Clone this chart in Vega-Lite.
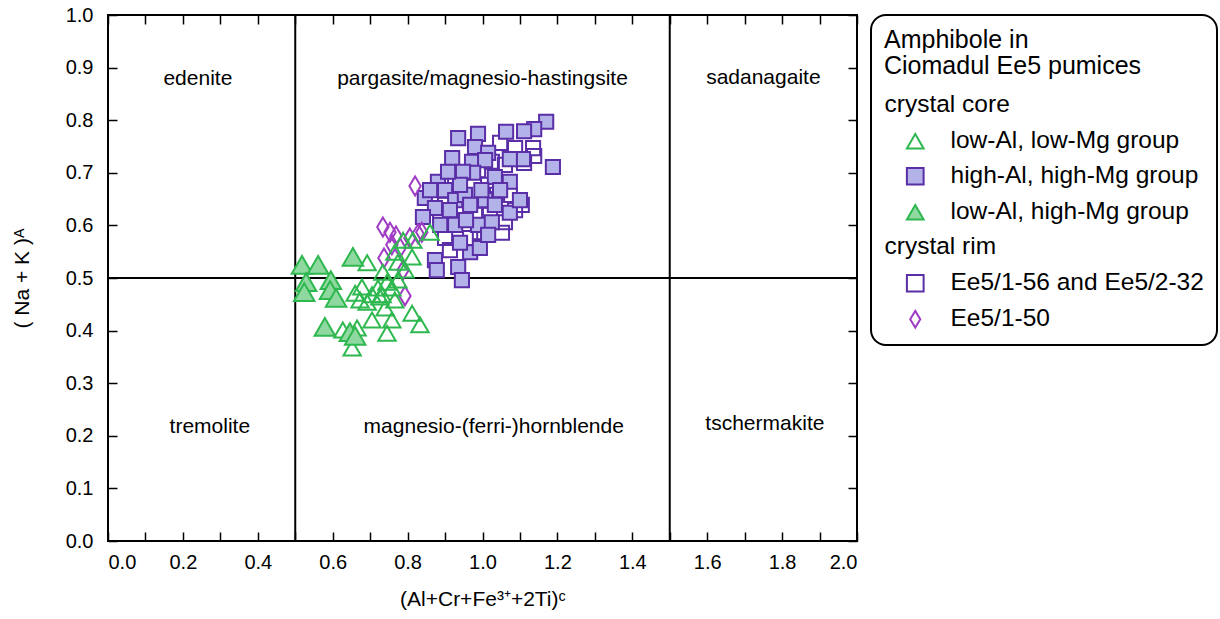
{
  "$schema": "https://vega.github.io/schema/vega-lite/v6.json",
  "width": 749,
  "height": 526,
  "padding": {"left": 11, "top": 5, "right": 2, "bottom": 2},
  "background": "white",
  "config": {
    "font": "Liberation Sans",
    "view": {"stroke": "black", "strokeWidth": 2},
    "axis": {"grid": false, "domain": false, "tickColor": "black", "tickWidth": 1.5, "labelColor": "black", "titleColor": "black", "labelFont": "Liberation Sans", "titleFont": "Liberation Sans", "labelFontSize": 20, "titleFontSize": 21, "titleFontWeight": "normal"},
    "legend": {"strokeColor": "black", "strokeWidth": 2, "cornerRadius": 15, "padding": 13, "fillColor": "white", "titleFont": "Liberation Sans", "titleFontSize": 25, "titleFontWeight": "normal", "titleColor": "black", "titleLineHeight": 26, "titlePadding": 14, "titleLimit": 400, "labelFont": "Liberation Sans", "labelFontSize": 24.5, "labelColor": "black", "labelLimit": 400, "symbolSize": 280, "symbolStrokeWidth": 2, "symbolOffset": 19, "rowPadding": 10, "offset": 13}
  },
  "resolve": {"axis": {"x": "independent", "y": "independent"}},
  "layer": [
    {
      "data": {"values": [{"x": 0.5}, {"x": 1.5}]},
      "mark": {"type": "rule", "color": "black", "strokeWidth": 2},
      "encoding": {
        "x": {"field": "x", "type": "quantitative", "scale": {"domain": [0, 2], "nice": false}, "axis": {"orient": "top", "labels": false, "title": null, "tickSize": -9, "values": [0, 0.1, 0.2, 0.3, 0.4, 0.5, 0.6, 0.7, 0.8, 0.9, 1.0, 1.1, 1.2, 1.3, 1.4, 1.5, 1.6, 1.7, 1.8, 1.9, 2.0]}}
      }
    },
    {
      "data": {"values": [{"y": 0.5}]},
      "mark": {"type": "rule", "color": "black", "strokeWidth": 2},
      "encoding": {
        "y": {"field": "y", "type": "quantitative", "scale": {"domain": [0, 1], "nice": false}, "axis": {"orient": "right", "labels": false, "title": null, "tickSize": -9, "values": [0, 0.1, 0.2, 0.3, 0.4, 0.5, 0.6, 0.7, 0.8, 0.9, 1.0]}}
      }
    },
    {
      "data": {"values": [
        {"x": 0.24, "y": 0.878, "label": "edenite"},
        {"x": 1.0, "y": 0.878, "label": "pargasite/magnesio-hastingsite"},
        {"x": 1.75, "y": 0.88, "label": "sadanagaite"},
        {"x": 0.272, "y": 0.217, "label": "tremolite"},
        {"x": 1.03, "y": 0.217, "label": "magnesio-(ferri-)hornblende"},
        {"x": 1.754, "y": 0.222, "label": "tschermakite"}
      ]},
      "mark": {"type": "text", "font": "Liberation Sans", "fontSize": 21, "color": "black", "align": "center", "baseline": "middle"},
      "encoding": {
        "x": {"field": "x", "type": "quantitative", "scale": {"domain": [0, 2], "nice": false}, "axis": null},
        "y": {"field": "y", "type": "quantitative", "scale": {"domain": [0, 1], "nice": false}, "axis": null},
        "text": {"field": "label"}
      }
    },
    {
      "data": {"values": [
        {"x": 1.135, "y": 0.747, "group": "Ee5/1-56 and Ee5/2-32"},
        {"x": 1.138, "y": 0.732, "group": "Ee5/1-56 and Ee5/2-32"},
        {"x": 1.111, "y": 0.719, "group": "Ee5/1-56 and Ee5/2-32"},
        {"x": 1.087, "y": 0.747, "group": "Ee5/1-56 and Ee5/2-32"},
        {"x": 1.047, "y": 0.757, "group": "Ee5/1-56 and Ee5/2-32"},
        {"x": 1.06, "y": 0.715, "group": "Ee5/1-56 and Ee5/2-32"},
        {"x": 1.052, "y": 0.586, "group": "Ee5/1-56 and Ee5/2-32"},
        {"x": 1.087, "y": 0.629, "group": "Ee5/1-56 and Ee5/2-32"},
        {"x": 1.105, "y": 0.639, "group": "Ee5/1-56 and Ee5/2-32"},
        {"x": 1.02, "y": 0.62, "group": "Ee5/1-56 and Ee5/2-32"},
        {"x": 0.993, "y": 0.587, "group": "Ee5/1-56 and Ee5/2-32"},
        {"x": 0.967, "y": 0.576, "group": "Ee5/1-56 and Ee5/2-32"},
        {"x": 1.039, "y": 0.658, "group": "Ee5/1-56 and Ee5/2-32"},
        {"x": 1.015, "y": 0.677, "group": "Ee5/1-56 and Ee5/2-32"},
        {"x": 0.9, "y": 0.576, "group": "Ee5/1-56 and Ee5/2-32"},
        {"x": 0.913, "y": 0.553, "group": "Ee5/1-56 and Ee5/2-32"},
        {"x": 0.98, "y": 0.62, "group": "Ee5/1-56 and Ee5/2-32"},
        {"x": 0.945, "y": 0.629, "group": "Ee5/1-56 and Ee5/2-32"},
        {"x": 0.927, "y": 0.69, "group": "Ee5/1-56 and Ee5/2-32"},
        {"x": 0.9, "y": 0.639, "group": "Ee5/1-56 and Ee5/2-32"},
        {"x": 1.073, "y": 0.658, "group": "Ee5/1-56 and Ee5/2-32"},
        {"x": 0.988, "y": 0.705, "group": "Ee5/1-56 and Ee5/2-32"},
        {"x": 1.025, "y": 0.721, "group": "Ee5/1-56 and Ee5/2-32"},
        {"x": 1.06, "y": 0.606, "group": "Ee5/1-56 and Ee5/2-32"},
        {"x": 0.887, "y": 0.62, "group": "Ee5/1-56 and Ee5/2-32"},
        {"x": 1.17, "y": 0.797, "group": "high-Al, high-Mg group"},
        {"x": 1.138, "y": 0.783, "group": "high-Al, high-Mg group"},
        {"x": 1.111, "y": 0.779, "group": "high-Al, high-Mg group"},
        {"x": 1.063, "y": 0.778, "group": "high-Al, high-Mg group"},
        {"x": 0.988, "y": 0.774, "group": "high-Al, high-Mg group"},
        {"x": 0.935, "y": 0.766, "group": "high-Al, high-Mg group"},
        {"x": 1.188, "y": 0.711, "group": "high-Al, high-Mg group"},
        {"x": 1.108, "y": 0.726, "group": "high-Al, high-Mg group"},
        {"x": 0.98, "y": 0.749, "group": "high-Al, high-Mg group"},
        {"x": 1.015, "y": 0.738, "group": "high-Al, high-Mg group"},
        {"x": 0.919, "y": 0.728, "group": "high-Al, high-Mg group"},
        {"x": 0.972, "y": 0.721, "group": "high-Al, high-Mg group"},
        {"x": 1.007, "y": 0.724, "group": "high-Al, high-Mg group"},
        {"x": 1.073, "y": 0.726, "group": "high-Al, high-Mg group"},
        {"x": 1.033, "y": 0.692, "group": "high-Al, high-Mg group"},
        {"x": 1.073, "y": 0.683, "group": "high-Al, high-Mg group"},
        {"x": 0.881, "y": 0.683, "group": "high-Al, high-Mg group"},
        {"x": 0.846, "y": 0.652, "group": "high-Al, high-Mg group"},
        {"x": 0.975, "y": 0.7, "group": "high-Al, high-Mg group"},
        {"x": 0.948, "y": 0.702, "group": "high-Al, high-Mg group"},
        {"x": 0.873, "y": 0.633, "group": "high-Al, high-Mg group"},
        {"x": 0.841, "y": 0.616, "group": "high-Al, high-Mg group"},
        {"x": 0.988, "y": 0.601, "group": "high-Al, high-Mg group"},
        {"x": 1.025, "y": 0.606, "group": "high-Al, high-Mg group"},
        {"x": 1.073, "y": 0.624, "group": "high-Al, high-Mg group"},
        {"x": 1.1, "y": 0.648, "group": "high-Al, high-Mg group"},
        {"x": 0.967, "y": 0.549, "group": "high-Al, high-Mg group"},
        {"x": 0.993, "y": 0.557, "group": "high-Al, high-Mg group"},
        {"x": 0.94, "y": 0.567, "group": "high-Al, high-Mg group"},
        {"x": 0.873, "y": 0.534, "group": "high-Al, high-Mg group"},
        {"x": 0.878, "y": 0.515, "group": "high-Al, high-Mg group"},
        {"x": 0.935, "y": 0.521, "group": "high-Al, high-Mg group"},
        {"x": 0.945, "y": 0.496, "group": "high-Al, high-Mg group"},
        {"x": 1.015, "y": 0.582, "group": "high-Al, high-Mg group"},
        {"x": 0.9, "y": 0.667, "group": "high-Al, high-Mg group"},
        {"x": 0.927, "y": 0.648, "group": "high-Al, high-Mg group"},
        {"x": 0.953, "y": 0.658, "group": "high-Al, high-Mg group"},
        {"x": 0.913, "y": 0.629, "group": "high-Al, high-Mg group"},
        {"x": 0.967, "y": 0.639, "group": "high-Al, high-Mg group"},
        {"x": 1.007, "y": 0.648, "group": "high-Al, high-Mg group"},
        {"x": 0.94, "y": 0.677, "group": "high-Al, high-Mg group"},
        {"x": 0.887, "y": 0.601, "group": "high-Al, high-Mg group"},
        {"x": 0.927, "y": 0.601, "group": "high-Al, high-Mg group"},
        {"x": 1.047, "y": 0.667, "group": "high-Al, high-Mg group"},
        {"x": 0.997, "y": 0.667, "group": "high-Al, high-Mg group"},
        {"x": 0.908, "y": 0.702, "group": "high-Al, high-Mg group"},
        {"x": 0.86, "y": 0.667, "group": "high-Al, high-Mg group"},
        {"x": 0.956, "y": 0.61, "group": "high-Al, high-Mg group"},
        {"x": 1.033, "y": 0.639, "group": "high-Al, high-Mg group"},
        {"x": 0.82, "y": 0.675, "group": "Ee5/1-50"},
        {"x": 0.734, "y": 0.597, "group": "Ee5/1-50"},
        {"x": 0.753, "y": 0.587, "group": "Ee5/1-50"},
        {"x": 0.769, "y": 0.58, "group": "Ee5/1-50"},
        {"x": 0.806, "y": 0.576, "group": "Ee5/1-50"},
        {"x": 0.828, "y": 0.584, "group": "Ee5/1-50"},
        {"x": 0.737, "y": 0.538, "group": "Ee5/1-50"},
        {"x": 0.788, "y": 0.515, "group": "Ee5/1-50"},
        {"x": 0.793, "y": 0.466, "group": "Ee5/1-50"},
        {"x": 0.78, "y": 0.557, "group": "Ee5/1-50"},
        {"x": 0.838, "y": 0.587, "group": "Ee5/1-50"},
        {"x": 0.758, "y": 0.563, "group": "Ee5/1-50"},
        {"x": 0.692, "y": 0.529, "group": "low-Al, low-Mg group"},
        {"x": 0.678, "y": 0.483, "group": "low-Al, low-Mg group"},
        {"x": 0.66, "y": 0.471, "group": "low-Al, low-Mg group"},
        {"x": 0.705, "y": 0.468, "group": "low-Al, low-Mg group"},
        {"x": 0.732, "y": 0.468, "group": "low-Al, low-Mg group"},
        {"x": 0.758, "y": 0.481, "group": "low-Al, low-Mg group"},
        {"x": 0.745, "y": 0.492, "group": "low-Al, low-Mg group"},
        {"x": 0.774, "y": 0.496, "group": "low-Al, low-Mg group"},
        {"x": 0.74, "y": 0.443, "group": "low-Al, low-Mg group"},
        {"x": 0.758, "y": 0.42, "group": "low-Al, low-Mg group"},
        {"x": 0.745, "y": 0.395, "group": "low-Al, low-Mg group"},
        {"x": 0.705, "y": 0.42, "group": "low-Al, low-Mg group"},
        {"x": 0.665, "y": 0.405, "group": "low-Al, low-Mg group"},
        {"x": 0.627, "y": 0.401, "group": "low-Al, low-Mg group"},
        {"x": 0.652, "y": 0.367, "group": "low-Al, low-Mg group"},
        {"x": 0.812, "y": 0.433, "group": "low-Al, low-Mg group"},
        {"x": 0.833, "y": 0.411, "group": "low-Al, low-Mg group"},
        {"x": 0.721, "y": 0.481, "group": "low-Al, low-Mg group"},
        {"x": 0.692, "y": 0.454, "group": "low-Al, low-Mg group"},
        {"x": 0.788, "y": 0.572, "group": "low-Al, low-Mg group"},
        {"x": 0.814, "y": 0.572, "group": "low-Al, low-Mg group"},
        {"x": 0.812, "y": 0.54, "group": "low-Al, low-Mg group"},
        {"x": 0.766, "y": 0.549, "group": "low-Al, low-Mg group"},
        {"x": 0.734, "y": 0.511, "group": "low-Al, low-Mg group"},
        {"x": 0.793, "y": 0.515, "group": "low-Al, low-Mg group"},
        {"x": 0.774, "y": 0.53, "group": "low-Al, low-Mg group"},
        {"x": 0.86, "y": 0.587, "group": "low-Al, low-Mg group"},
        {"x": 0.726, "y": 0.464, "group": "low-Al, low-Mg group"},
        {"x": 0.673, "y": 0.458, "group": "low-Al, low-Mg group"},
        {"x": 0.766, "y": 0.458, "group": "low-Al, low-Mg group"},
        {"x": 0.518, "y": 0.525, "group": "low-Al, high-Mg group"},
        {"x": 0.561, "y": 0.525, "group": "low-Al, high-Mg group"},
        {"x": 0.529, "y": 0.492, "group": "low-Al, high-Mg group"},
        {"x": 0.524, "y": 0.473, "group": "low-Al, high-Mg group"},
        {"x": 0.595, "y": 0.496, "group": "low-Al, high-Mg group"},
        {"x": 0.593, "y": 0.477, "group": "low-Al, high-Mg group"},
        {"x": 0.609, "y": 0.462, "group": "low-Al, high-Mg group"},
        {"x": 0.654, "y": 0.54, "group": "low-Al, high-Mg group"},
        {"x": 0.579, "y": 0.407, "group": "low-Al, high-Mg group"},
        {"x": 0.646, "y": 0.397, "group": "low-Al, high-Mg group"},
        {"x": 0.66, "y": 0.39, "group": "low-Al, high-Mg group"}
      ]},
      "encoding": {
        "x": {"field": "x", "type": "quantitative", "scale": {"domain": [0, 2], "nice": false}, "axis": {"orient": "bottom", "title": "(Al+Cr+Fe³⁺+2Ti)ᶜ", "tickSize": -9, "labelPadding": 20, "titlePadding": 16, "values": [0, 0.1, 0.2, 0.3, 0.4, 0.5, 0.6, 0.7, 0.8, 0.9, 1.0, 1.1, 1.2, 1.3, 1.4, 1.5, 1.6, 1.7, 1.8, 1.9, 2.0], "labelExpr": "round(datum.value * 10) % 2 == 0 ? format(datum.value, '.1f') : ''"}},
        "y": {"field": "y", "type": "quantitative", "scale": {"domain": [0, 1], "nice": false}, "axis": {"orient": "left", "title": "( Na + K )ᴬ", "tickSize": -9, "labelPadding": 24, "titlePadding": 33, "values": [0, 0.1, 0.2, 0.3, 0.4, 0.5, 0.6, 0.7, 0.8, 0.9, 1.0], "format": ".1f"}},
        "shape": {"field": "group", "type": "nominal", "scale": {"domain": ["crystal core", "low-Al, low-Mg group", "high-Al, high-Mg group", "low-Al, high-Mg group", "crystal rim", "Ee5/1-56 and Ee5/2-32", "Ee5/1-50"], "range": ["circle", "triangle-up", "square", "triangle-up", "circle", "square", "M0,-1L0.6,0L0,1L-0.6,0Z"]}, "legend": {"title": ["Amphibole in", "Ciomadul Ee5 pumices"], "labelOffset": {"expr": "datum.label === 'crystal core' || datum.label === 'crystal rim' ? -43 : 23"}}},
        "fill": {"field": "group", "type": "nominal", "scale": {"domain": ["crystal core", "low-Al, low-Mg group", "high-Al, high-Mg group", "low-Al, high-Mg group", "crystal rim", "Ee5/1-56 and Ee5/2-32", "Ee5/1-50"], "range": ["transparent", "transparent", "#b3b3ea", "#8fd9a1", "transparent", "transparent", "transparent"]}, "legend": {"title": ["Amphibole in", "Ciomadul Ee5 pumices"], "labelOffset": {"expr": "datum.label === 'crystal core' || datum.label === 'crystal rim' ? -43 : 23"}}},
        "stroke": {"field": "group", "type": "nominal", "scale": {"domain": ["crystal core", "low-Al, low-Mg group", "high-Al, high-Mg group", "low-Al, high-Mg group", "crystal rim", "Ee5/1-56 and Ee5/2-32", "Ee5/1-50"], "range": ["transparent", "#2eb84f", "#5a2ea6", "#2eb84f", "transparent", "#5a2ea6", "#a03cc4"]}, "legend": {"title": ["Amphibole in", "Ciomadul Ee5 pumices"], "labelOffset": {"expr": "datum.label === 'crystal core' || datum.label === 'crystal rim' ? -43 : 23"}}}
      },
      "layer": [
        {"transform": [{"filter": "datum.group === 'Ee5/1-56 and Ee5/2-32'"}], "mark": {"type": "point", "opacity": 1, "strokeWidth": 2, "size": 200}},
        {"transform": [{"filter": "datum.group === 'high-Al, high-Mg group'"}], "mark": {"type": "point", "opacity": 1, "strokeWidth": 2, "size": 200}},
        {"transform": [{"filter": "datum.group === 'Ee5/1-50'"}], "mark": {"type": "point", "opacity": 1, "strokeWidth": 2, "size": 360}},
        {"transform": [{"filter": "datum.group === 'low-Al, low-Mg group'"}], "mark": {"type": "point", "opacity": 1, "strokeWidth": 2, "size": 300}},
        {"transform": [{"filter": "datum.group === 'low-Al, high-Mg group'"}], "mark": {"type": "point", "opacity": 1, "strokeWidth": 2, "size": 420}}
      ]
    }
  ]
}
